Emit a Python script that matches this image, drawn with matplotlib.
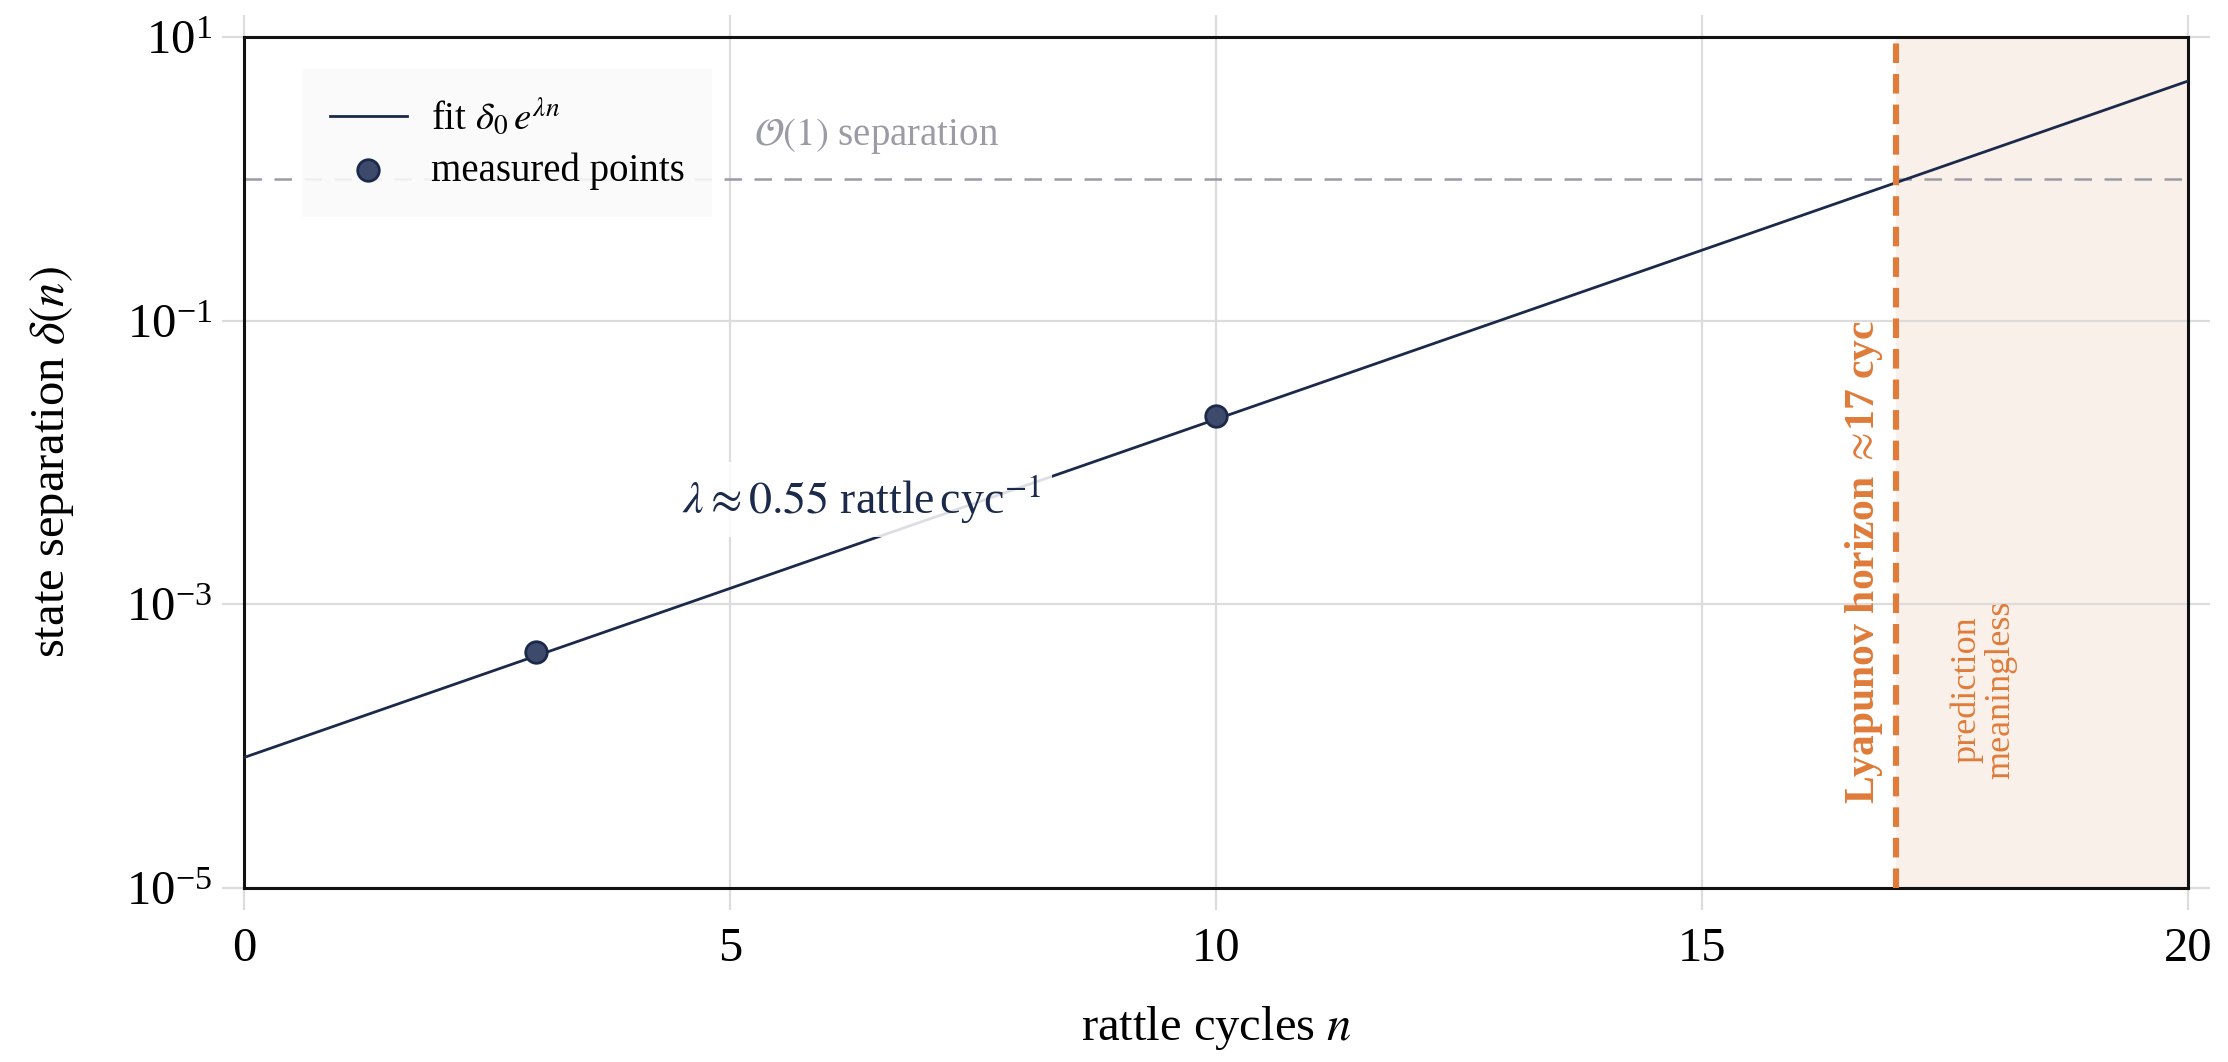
import numpy as np
import matplotlib.pyplot as plt

# Data
fit_n = [0, 20]
fit_delta = [8.3e-5, 4.9]
measured_n = [3, 10]
measured_delta = [4.6e-4, 0.0214]
horizon_n = 17
n_max = 20
o1_level = 1.0
y_ticks = [1e-5, 1e-3, 1e-1, 1e1]
x_ticks = [0, 5, 10, 15, 20]

navy = '#1b2a4a'
orange = '#e07b39'
grey = '#9b9ba6'
grid_col = '#dcdcdc'

plt.rcParams['font.family'] = ['Liberation Serif', 'DejaVu Serif']
plt.rcParams['mathtext.fontset'] = 'stix'

fig, ax = plt.subplots(figsize=(11.14, 5.31), dpi=200)
fig.subplots_adjust(left=0.1095, right=0.982, top=0.965, bottom=0.164)

# shaded "meaningless" zone past the horizon
ax.axvspan(horizon_n, n_max, color='#faf0ea', zorder=0, lw=0)

# O(1) reference line
ax.axhline(o1_level, color=grey, lw=0.9, linestyle=(0, (7, 5)), zorder=1)
ax.text(5.25, 2.0, r'$\mathcal{O}(1)$ separation', color=grey, fontsize=14,
        ha='left', va='center')

# fit line and measured points
ax.plot(fit_n, fit_delta, color=navy, lw=1.0, label=r'fit $\delta_0\,e^{\lambda n}$', zorder=3)
ax.scatter(measured_n, measured_delta, s=60, color='#3d4a6b', edgecolor=navy,
           lw=1.0, zorder=4, label='measured points')

# Lyapunov horizon
ax.axvline(horizon_n, color=orange, lw=2.2, linestyle=(0, (3.2, 1.8)), zorder=3)
ax.text(horizon_n - 0.12, 2.0e-3, r'Lyapunov horizon $\approx\!$17 cyc', color=orange,
        fontsize=15, fontweight='bold', rotation=90, ha='right', va='center')
ax.text(17.9, 2.5e-4, 'prediction\nmeaningless', color=orange, fontsize=13,
        rotation=90, ha='center', va='center', linespacing=1.05)

# growth rate annotation
ax.text(6.35, 5.5e-3, r'$\lambda \approx 0.55$ rattle$\,$cyc$^{-1}$', color=navy,
        fontsize=16.5, ha='center', va='center', zorder=5,
        bbox=dict(boxstyle='square,pad=0.25', fc='white', ec='none', alpha=0.85))

ax.set_yscale('log')
ax.set_xlim(0, n_max)
ax.set_ylim(1e-5, 1e1)
ax.set_yticks(y_ticks)
ax.yaxis.set_minor_locator(plt.NullLocator())
ax.set_xticks(x_ticks)

ax.grid(True, color=grid_col, lw=0.8, zorder=0)
ax.set_axisbelow(True)
ax.tick_params(axis='both', which='major', direction='out', length=8, width=0.8,
               color=grid_col, labelsize=17.5, top=True, right=True,
               labeltop=False, labelright=False)
ax.tick_params(axis='x', pad=6)
for sp in ax.spines.values():
    sp.set_color('#111111')
    sp.set_linewidth(1.1)

ax.set_xlabel(r'rattle cycles $n$', fontsize=17.5, labelpad=12)
ax.set_ylabel(r'state separation $\delta(n)$', fontsize=17.5, labelpad=18)

leg = ax.legend(loc='upper left', bbox_to_anchor=(0.02, 0.985), fontsize=14,
                frameon=True, fancybox=False, handlelength=2.0, borderpad=0.7,
                labelspacing=0.35, handletextpad=0.6)
leg.get_frame().set_facecolor('#fafafa')
leg.get_frame().set_edgecolor('none')
leg.get_frame().set_alpha(0.9)

fig.savefig('out.png', dpi=200)
